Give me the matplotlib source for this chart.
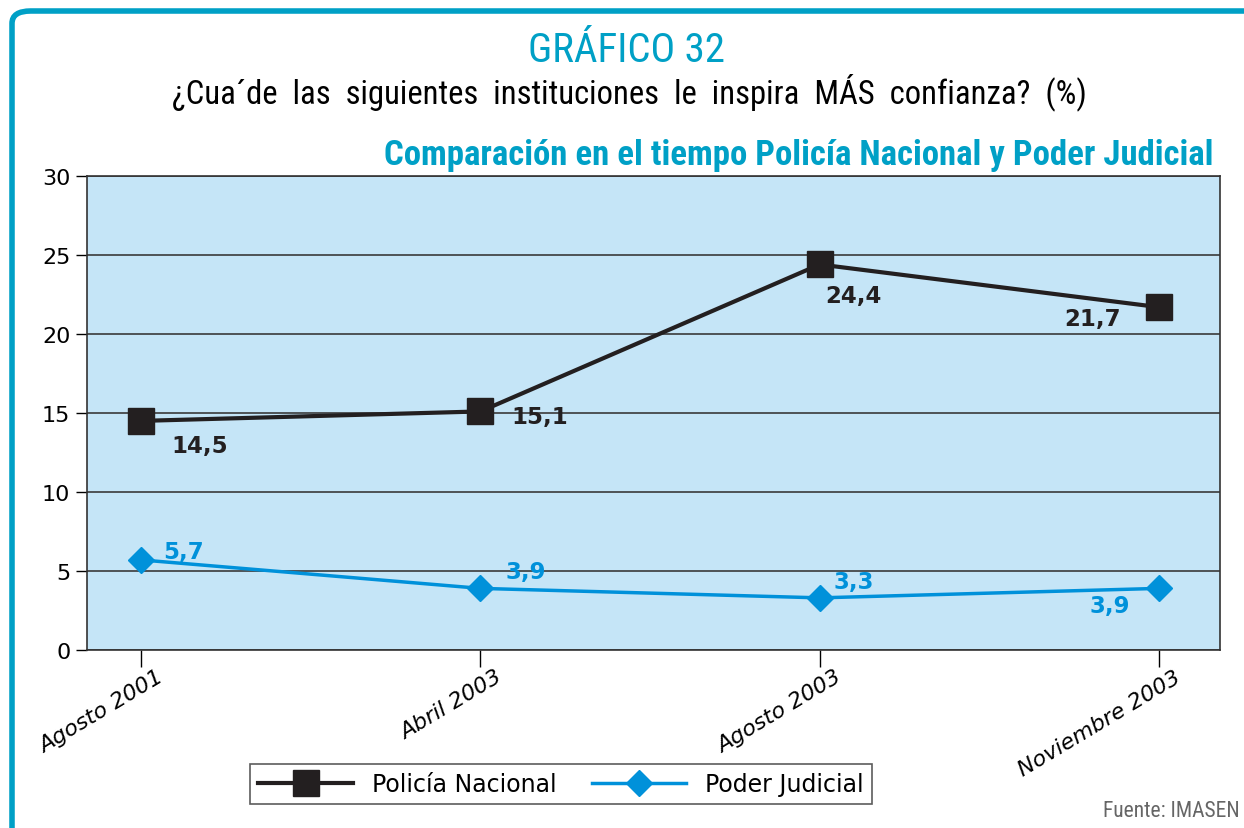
import matplotlib
matplotlib.use("Agg")
import matplotlib.pyplot as plt
import matplotlib.transforms as mtransforms
from matplotlib.patches import FancyBboxPatch

fechas = ["Agosto 2001", "Abril 2003", "Agosto 2003", "Noviembre 2003"]
policia = [14.5, 15.1, 24.4, 21.7]
judicial = [5.7, 3.9, 3.3, 3.9]
yticks = [0, 5, 10, 15, 20, 25, 30]

NEGRO = "#231F20"
AZUL = "#0091DA"
CIAN = "#00A0C6"
FONDO = "#C5E5F7"
NARROW = ["Liberation Sans Narrow", "Roboto Condensed", "Liberation Sans", "DejaVu Sans"]

fig = plt.figure(figsize=(12.44, 8.29), dpi=100)

# marco azul redondeado
marco = FancyBboxPatch((12/1244, -0.05), 1.05, 1 - 12/829 + 0.05,
                       boxstyle="round,pad=0,rounding_size=0.015",
                       transform=fig.transFigure, fill=False,
                       edgecolor=CIAN, linewidth=4, zorder=0)
fig.patches.append(marco)

fig.text(0.504, 1 - 50/829, "GRÁFICO 32", ha="center", va="center",
         fontsize=29.5, color=CIAN, family=NARROW, fontstretch="condensed")
fig.text(0.506, 1 - 92/829,
         "¿Cua´de  las  siguientes  instituciones  le  inspira  MÁS  confianza?  (%)",
         ha="center", va="center", fontsize=23.5, color="black", family=NARROW,
         fontstretch="condensed")
fig.text(1213/1244, 1 - 155/829,
         "Comparación en el tiempo Policía Nacional y Poder Judicial",
         ha="right", va="center", fontsize=25, color=CIAN, family=NARROW,
         fontweight="bold", fontstretch="condensed")

ax = fig.add_axes([87/1244, 1 - 651/829, 1133/1244, 474/829])
ax.set_facecolor(FONDO)
x = list(range(len(fechas)))

ax.plot(x, judicial, color=AZUL, lw=2.5, marker="D", ms=13, zorder=3,
        label="Poder Judicial")
ax.plot(x, policia, color=NEGRO, lw=3, marker="s", ms=19, zorder=4,
        label="Policía Nacional")

ax.set_xlim(-0.16, 3.18)
ax.set_ylim(0, 30)
ax.set_yticks(yticks)
ax.yaxis.grid(True, color="#3a3a3a", lw=1.2)
ax.set_axisbelow(True)
ax.set_xticks(x)
ax.set_xticklabels(fechas, rotation=31, ha="right", va="center",
                   rotation_mode="anchor", fontsize=16, fontstyle="italic")
ax.tick_params(axis="x", length=12, width=1, pad=6)
ax.tick_params(axis="y", length=8, width=1, labelsize=16, pad=4)
desplaza = mtransforms.ScaledTranslation(20/100, 0, fig.dpi_scale_trans)
for lab in ax.get_xticklabels():
    lab.set_transform(lab.get_transform() + desplaza)
for s in ax.spines.values():
    s.set_color("#333333")
    s.set_linewidth(1.2)

# etiquetas de datos
off_pol = [(22, -18), (22, -4), (4, -22), (-68, -8)]
off_jud = [(16, 6), (18, 12), (10, 12), (-50, -12)]
for i in x:
    ax.annotate(f"{policia[i]:.1f}".replace(".", ","), (i, policia[i]),
                xytext=off_pol[i], textcoords="offset points",
                fontsize=16.5, fontweight="bold", color=NEGRO, va="center")
    ax.annotate(f"{judicial[i]:.1f}".replace(".", ","), (i, judicial[i]),
                xytext=off_jud[i], textcoords="offset points",
                fontsize=16.5, fontweight="bold", color=AZUL, va="center")

h, l = ax.get_legend_handles_labels()
leg = fig.legend(h[::-1], l[::-1], loc="center", ncol=2,
                 bbox_to_anchor=(561/1244, 1 - 785/829), frameon=True,
                 fancybox=False, edgecolor="#333333", fontsize=17,
                 handlelength=4, columnspacing=1.5, borderpad=0.35)
leg.get_frame().set_linewidth(1.2)

fig.text(1240/1244, 1 - 812/829, "Fuente: IMASEN", ha="right", va="center",
         fontsize=15.5, color="#666666", family=NARROW, fontstretch="condensed")

fig.savefig("out.png", dpi=100)
